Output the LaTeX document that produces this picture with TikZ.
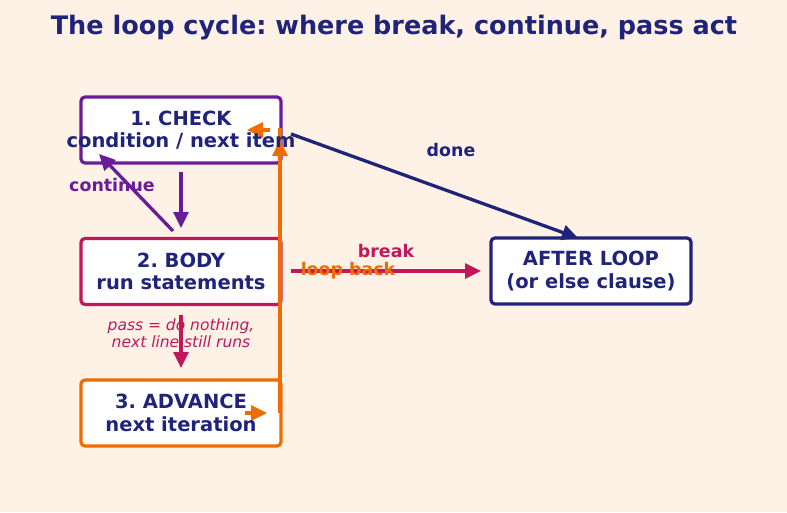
\documentclass[tikz,border=0pt]{standalone}
\usepackage{fontspec}
\setmainfont{DejaVu Sans}
\usetikzlibrary{arrows.meta}
\definecolor{bgcream}{HTML}{FEF1E6}
\definecolor{navy}{HTML}{1F237A}
\definecolor{plum}{HTML}{6A1B9A}
\definecolor{crimson}{HTML}{C2185B}
\definecolor{amber}{HTML}{EF6C00}
\frenchspacing
\begin{document}
\begin{tikzpicture}[x=1pt,y=-1pt,
  stagebox/.style={draw, line width=3.2pt, rounded corners=4pt, fill=white,
    minimum width=200pt, minimum height=66pt, inner sep=0pt},
  stagetext/.style={align=center, text=navy, inner sep=0pt,
    font=\bfseries\fontsize{19.5}{22.5}\selectfont},
  flow/.style={line width=3.3pt, -{Triangle[length=16pt,width=15pt]}},
  tag/.style={font=\bfseries\fontsize{17.4}{20}\selectfont, inner sep=0pt}]
  % canvas
  \path[fill=bgcream] (0,0) rectangle (787,512);
  \useasboundingbox (0,0) rectangle (787,512);

  % title
  \node[text=navy, font=\bfseries\fontsize{25.5}{30}\selectfont] (title) at (394,28)
    {The loop cycle: where break, continue, pass act};

  % stages (boxes first, text on top so long lines may run past the frame)
  \node[stagebox, draw=plum] (check) at (181,130) {};
  \node[stagebox, draw=crimson] (body) at (181,271.5) {};
  \node[stagebox, draw=amber] (adv) at (181,413) {};
  \node[stagebox, draw=navy] (after) at (591,271) {};

  % helper points for connectors
  \coordinate (cb1) at (181,172);
  \coordinate (cb2) at (181,228);
  \coordinate (co1) at (173,231);
  \coordinate (co2) at (99,154);
  \coordinate (dn1) at (291,134);
  \coordinate (dn2) at (578,238);
  \coordinate (br1) at (291,271);
  \coordinate (br2) at (481,271);
  \coordinate (ps1) at (181,315);
  \coordinate (ps2) at (181,368);
  \coordinate (lb0) at (245,413);
  \coordinate (lb1) at (267,413);
  \coordinate (lb2) at (280,413);
  \coordinate (lb3) at (280,140);
  \coordinate (lb4) at (280,128);
  \coordinate (lb5) at (270,130);
  \coordinate (lb6) at (247,130);

  % check -> body
  \draw[flow, plum] (cb1) -- (cb2);
  % continue
  \draw[flow, plum] (co1) -- (co2);
  \node[tag, text=plum] (contlbl) at (112,185) {continue};
  % done
  \draw[flow, navy] (dn1) -- (dn2);
  \node[tag, text=navy] (donelbl) at (451,150) {done};
  % break
  \draw[flow, crimson] (br1) -- (br2);
  \node[tag, text=crimson] (brklbl) at (386,251) {break};
  % pass
  \draw[flow, crimson] (ps1) -- (ps2);
  \node[text=crimson, align=center, font=\itshape\fontsize{15.5}{17}\selectfont, inner sep=0pt]
    (passlbl) at (181,333) {pass = do nothing,\\next line still runs};
  % loop back
  \draw[flow, amber] (lb0) -- (lb1);
  \draw[line width=3.3pt, amber] (lb2) -- (lb4);
  \draw[flow, amber] (lb2) -- (lb3);
  \draw[flow, amber] (lb5) -- (lb6);
  \node[tag, text=amber] (looplbl) at (348,271) {loop back};

  % stage texts
  \node[stagetext] (checktxt) at (check) {1. CHECK\\condition / next item};
  \node[stagetext] (bodytxt) at (body) {2. BODY\\run statements};
  \node[stagetext] (advtxt) at (adv) {3. ADVANCE\\next iteration};
  \node[stagetext] (aftertxt) at (after) {AFTER LOOP\\(or else clause)};
\end{tikzpicture}
\end{document}
